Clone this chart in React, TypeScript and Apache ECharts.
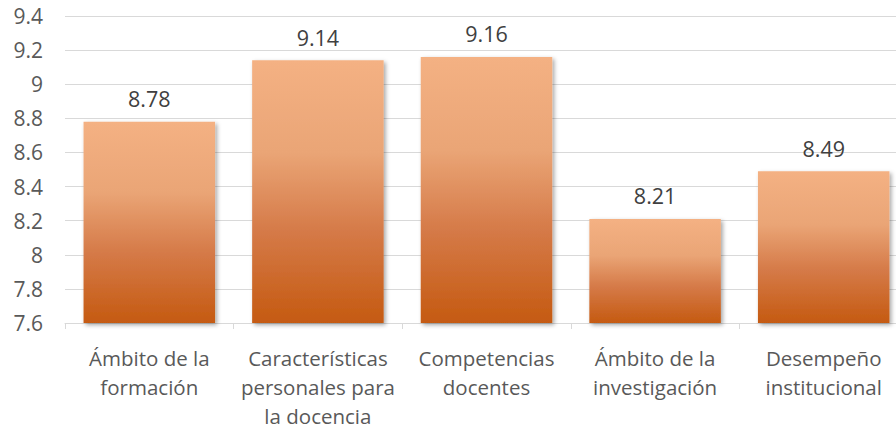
import React, { useEffect, useRef } from "react";
import * as echarts from "echarts";

const categories = [
  "Ámbito de la\nformación",
  "Características\npersonales para\nla docencia",
  "Competencias\ndocentes",
  "Ámbito de la\ninvestigación",
  "Desempeño\ninstitucional",
];
const values = [8.78, 9.14, 9.16, 8.21, 8.49];
const yMin = 7.6;
const yMax = 9.4;
const yInterval = 0.2;

export default function App() {
  const ref = useRef<HTMLDivElement>(null);
  useEffect(() => {
    document.body.style.margin = "0";
    const chart = echarts.init(ref.current!, null, { renderer: "svg" });
    const font = "'Open Sans', sans-serif";
    chart.setOption({
      animation: false,
      grid: { left: 65, top: 16, width: 843, height: 311, containLabel: false },
      xAxis: {
        type: "category",
        data: categories,
        axisLine: { show: true, lineStyle: { color: "#D9D9D9", width: 1 } },
        axisTick: { show: true, length: 6, lineStyle: { color: "#D9D9D9" } },
        axisLabel: {
          color: "#595959",
          fontFamily: font,
          fontSize: 20.5,
          lineHeight: 29,
          margin: 20,
          interval: 0,
        },
      },
      yAxis: {
        type: "value",
        min: yMin,
        max: yMax,
        interval: yInterval,
        axisLine: { show: false },
        axisTick: { show: false },
        splitLine: { lineStyle: { color: "#D9D9D9", width: 1 } },
        axisLabel: {
          color: "#595959",
          fontFamily: font,
          fontSize: 21,
          margin: 22,
          formatter: (v: number) => String(parseFloat(v.toFixed(2))),
        },
      },
      series: [
        {
          type: "bar",
          data: values,
          barCategoryGap: "22%",
          itemStyle: {
            color: new echarts.graphic.LinearGradient(0, 0, 0, 1, [
              { offset: 0, color: "#F4B183" },
              { offset: 0.35, color: "#EAA576" },
              { offset: 0.65, color: "#D57A48" },
              { offset: 1, color: "#C55A11" },
            ]),
            shadowColor: "rgba(0,0,0,0.35)",
            shadowBlur: 4,
            shadowOffsetX: 2,
            shadowOffsetY: 2,
          },
          label: {
            show: true,
            position: "top",
            distance: 12,
            color: "#404040",
            fontFamily: font,
            fontSize: 21.5,
            formatter: (p: any) => String(p.value),
          },
        },
      ],
    });
    return () => chart.dispose();
  }, []);
  return (
    <div style={{ width: 896, height: 430, overflow: "hidden", position: "relative" }}>
      <div ref={ref} style={{ width: 920, height: 430 }} />
    </div>
  );
}
